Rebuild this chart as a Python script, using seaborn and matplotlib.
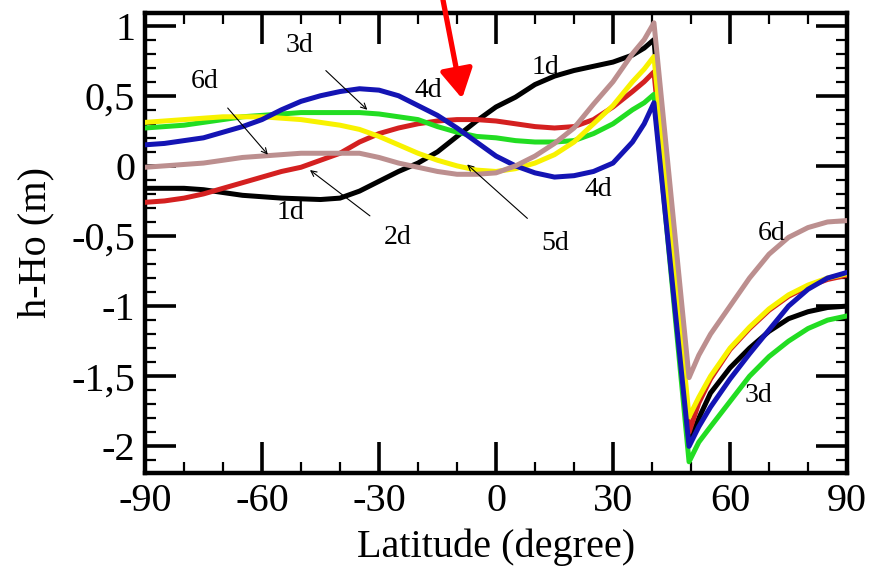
import matplotlib
matplotlib.use("Agg")
import matplotlib.pyplot as plt
import seaborn as sns
import pandas as pd
from matplotlib.ticker import MultipleLocator, FixedLocator, FixedFormatter

# ---------------- data ----------------
lat = [-90, -85, -80, -75, -70, -65, -60, -55, -50, -45, -40, -35, -30, -25, -20,
       -15, -10, -5, 0, 5, 10, 15, 20, 25, 30, 35, 38, 40.5,
       49.5, 52, 55, 60, 65, 70, 75, 80, 85, 90]

d1 = [-0.16, -0.16, -0.16, -0.17, -0.19, -0.21, -0.22, -0.23, -0.235, -0.24, -0.23, -0.18, -0.11, -0.04, 0.02,
      0.10, 0.21, 0.32, 0.42, 0.49, 0.58, 0.64, 0.68, 0.71, 0.74, 0.79, 0.84, 0.90,
      -1.98, -1.80, -1.62, -1.44, -1.30, -1.18, -1.09, -1.04, -1.01, -1.00]
d2 = [-0.26, -0.25, -0.23, -0.20, -0.16, -0.12, -0.08, -0.04, -0.01, 0.04, 0.09, 0.17, 0.23, 0.27, 0.30,
      0.32, 0.33, 0.33, 0.32, 0.30, 0.28, 0.27, 0.28, 0.33, 0.42, 0.53, 0.60, 0.67,
      -1.90, -1.69, -1.52, -1.31, -1.16, -1.03, -0.93, -0.86, -0.81, -0.78]
d3 = [0.27, 0.28, 0.29, 0.31, 0.33, 0.35, 0.36, 0.37, 0.38, 0.38, 0.38, 0.38, 0.37, 0.35, 0.33,
      0.28, 0.24, 0.21, 0.20, 0.18, 0.17, 0.17, 0.18, 0.23, 0.30, 0.40, 0.45, 0.51,
      -2.11, -1.97, -1.86, -1.68, -1.50, -1.36, -1.25, -1.16, -1.10, -1.07]
d4 = [0.15, 0.16, 0.18, 0.20, 0.24, 0.28, 0.33, 0.40, 0.46, 0.50, 0.53, 0.55, 0.54, 0.50, 0.43,
      0.36, 0.27, 0.17, 0.07, 0.00, -0.05, -0.08, -0.07, -0.04, 0.02, 0.17, 0.30, 0.45,
      -2.00, -1.86, -1.72, -1.52, -1.34, -1.17, -1.00, -0.88, -0.80, -0.76]
d5 = [0.31, 0.32, 0.33, 0.34, 0.35, 0.35, 0.35, 0.34, 0.33, 0.31, 0.29, 0.26, 0.21, 0.15, 0.09,
      0.04, 0.00, -0.03, -0.04, -0.02, 0.02, 0.08, 0.17, 0.30, 0.43, 0.60, 0.69, 0.78,
      -1.79, -1.65, -1.50, -1.30, -1.15, -1.02, -0.92, -0.85, -0.80, -0.77]
d6 = [-0.01, 0.00, 0.01, 0.02, 0.04, 0.06, 0.07, 0.08, 0.09, 0.09, 0.09, 0.09, 0.06, 0.02, -0.01,
      -0.04, -0.06, -0.06, -0.05, 0.00, 0.07, 0.16, 0.27, 0.44, 0.60, 0.80, 0.90, 1.02,
      -1.51, -1.35, -1.20, -1.00, -0.80, -0.63, -0.51, -0.44, -0.40, -0.39]

series_names = ["1d", "2d", "3d", "4d", "5d", "6d"]
series_vals = [d1, d2, d3, d4, d5, d6]
colors = ["#000000", "#d42020", "#22dd22", "#1414b4", "#f8f200", "#bc8f8f"]
zorders = [2, 3, 4, 6, 5, 7]

xticks = [-90, -60, -30, 0, 30, 60, 90]
xticklabels = ["-90", "-60", "-30", "0", "30", "60", "90"]
yticks = [1, 0.5, 0, -0.5, -1, -1.5, -2]
yticklabels = ["1", "0,5", "0", "-0,5", "-1", "-1,5", "-2"]

# labels: (text, text_x, text_y, arrow_x, arrow_y) arrow None if no arrow
labels = [
    ("3d", -50.5, 0.86, -33.0, 0.40),
    ("6d", -74.6, 0.60, -58.5, 0.08),
    ("4d", -17.4, 0.54, None, None),
    ("1d", 12.6, 0.70, None, None),
    ("1d", -52.8, -0.33, None, None),
    ("2d", -25.1, -0.51, -47.7, -0.03),
    ("5d", 15.1, -0.55, -7.4, 0.01),
    ("4d", 26.2, -0.17, None, None),
    ("6d", 70.8, -0.48, None, None),
    ("3d", 67.2, -1.64, None, None),
]

# ---------------- style ----------------
sns.set_style("ticks")
plt.rcParams["font.family"] = ["Liberation Serif", "DejaVu Serif"]
plt.rcParams["text.color"] = "black"
plt.rcParams["axes.labelcolor"] = "black"
plt.rcParams["xtick.color"] = "black"
plt.rcParams["ytick.color"] = "black"

fig = plt.figure(figsize=(8.83, 5.68), dpi=100)
ax = fig.add_axes([145 / 883, 1 - 473 / 568, (847 - 145) / 883, (473 - 13) / 568])

for name, vals, col, z in zip(series_names, series_vals, colors, zorders):
    df = pd.DataFrame({"lat": lat, "val": vals})
    sns.lineplot(data=df, x="lat", y="val", ax=ax, color=col, lw=3.6,
                 sort=False, estimator=None, zorder=z, legend=False)

ax.set_xlim(-90, 90)
ax.set_ylim(-2.19, 1.09)

ax.xaxis.set_major_locator(FixedLocator(xticks))
ax.xaxis.set_major_formatter(FixedFormatter(xticklabels))
ax.xaxis.set_minor_locator(MultipleLocator(10))
ax.yaxis.set_major_locator(FixedLocator(yticks))
ax.yaxis.set_major_formatter(FixedFormatter(yticklabels))
ax.yaxis.set_minor_locator(MultipleLocator(0.1))

ax.tick_params(which="both", direction="in", top=True, right=True, bottom=True, left=True,
               colors="black", labelcolor="black")
ax.tick_params(which="major", length=22, width=2.6, labelsize=29, pad=7)
ax.tick_params(which="minor", length=8, width=1.6)
for sp in ax.spines.values():
    sp.set_linewidth(3.2)
    sp.set_color("black")

ax.set_xlabel("Latitude (degree)", fontsize=29, labelpad=6, color="black")
ax.set_ylabel("h-Ho (m)", fontsize=29, labelpad=12, color="black")

for text, tx, ty, axx, ayy in labels:
    if axx is None:
        ax.text(tx, ty, text, fontsize=20, ha="center", va="center", zorder=10,
                color="black")
    else:
        ax.annotate(text, xy=(axx, ayy), xytext=(tx, ty), fontsize=20,
                    ha="center", va="center", zorder=10, color="black",
                    arrowprops=dict(arrowstyle="->", lw=0.8, color="black",
                                    shrinkA=10, shrinkB=0, mutation_scale=10))

# red pointer arrow from the top edge of the figure
ax.annotate("", xy=(-8.7, 0.48), xycoords="data",
            xytext=(443 / 883, 1.0), textcoords="figure fraction",
            arrowprops=dict(arrowstyle="-|>,head_length=0.8,head_width=0.45",
                            lw=3.8, color="#ff0000", shrinkA=0, shrinkB=0,
                            mutation_scale=22),
            annotation_clip=False, zorder=20)

fig.savefig("out.png", dpi=100, facecolor="white")
